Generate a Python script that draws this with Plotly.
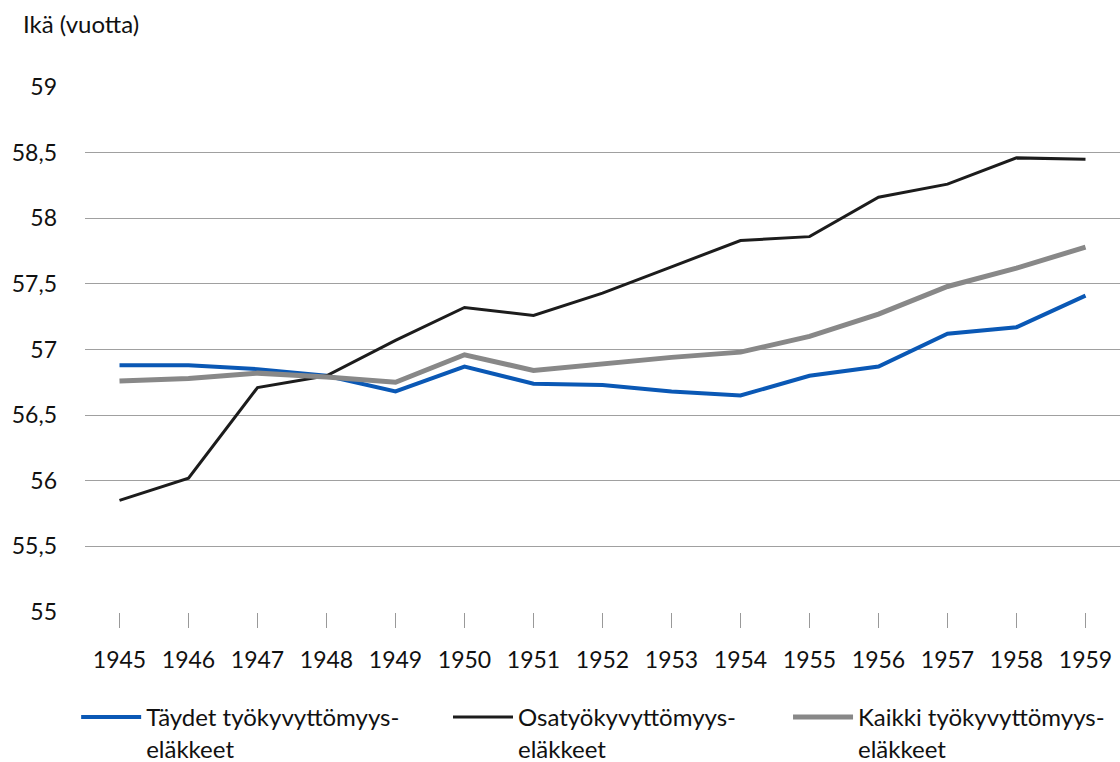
import plotly.graph_objects as go

years = [1945, 1946, 1947, 1948, 1949, 1950, 1951, 1952, 1953, 1954, 1955, 1956, 1957, 1958, 1959]
taydet = [56.88, 56.88, 56.85, 56.80, 56.68, 56.87, 56.74, 56.73, 56.68, 56.65, 56.80, 56.87, 57.12, 57.17, 57.41]
osa = [55.85, 56.02, 56.71, 56.80, 57.07, 57.32, 57.26, 57.43, 57.63, 57.83, 57.86, 58.16, 58.26, 58.46, 58.45]
kaikki = [56.76, 56.78, 56.82, 56.79, 56.75, 56.96, 56.84, 56.89, 56.94, 56.98, 57.10, 57.27, 57.48, 57.62, 57.78]

names = ["Täydet työkyvyttömyys-<br>eläkkeet", "Osatyökyvyttömyys-<br>eläkkeet", "Kaikki työkyvyttömyys-<br>eläkkeet"]
y_ticks = [55, 55.5, 56, 56.5, 57, 57.5, 58, 58.5, 59]
y_labels = ["55", "55,5", "56", "56,5", "57", "57,5", "58", "58,5", "59"]

fig = go.Figure()
fig.add_trace(go.Scatter(x=years, y=taydet, mode="lines", name=names[0], legend="legend",
                         line=dict(color="#0A58B5", width=4)))
fig.add_trace(go.Scatter(x=years, y=osa, mode="lines", name=names[1], legend="legend2",
                         line=dict(color="#1C1C1C", width=3)))
fig.add_trace(go.Scatter(x=years, y=kaikki, mode="lines", name=names[2], legend="legend3",
                         line=dict(color="#888888", width=5)))

def leg(x):
    return dict(orientation="h", xref="container", yref="container",
                x=x, xanchor="left", y=0.088, yanchor="top",
                valign="top", itemwidth=60, font=dict(size=24),
                bgcolor="rgba(0,0,0,0)")

fig.update_layout(
    width=1120, height=762,
    margin=dict(l=85, r=0, t=87, b=150),
    plot_bgcolor="white", paper_bgcolor="white",
    font=dict(family="Lato, Open Sans, sans-serif", size=23, color="#111111"),
    showlegend=True,
    legend=leg(0.068),
    legend2=leg(0.400),
    legend3=leg(0.7036),
    xaxis=dict(range=[1944.5, 1959.5], tickmode="array", tickvals=years,
               ticktext=[str(y) for y in years], showgrid=False,
               ticks="outside", ticklen=15, tickcolor="#999999",
               showline=False, zeroline=False, ticklabelstandoff=12),
    yaxis=dict(range=[55, 59], tickmode="array", tickvals=y_ticks, ticktext=y_labels,
               showgrid=True, gridcolor="#A0A0A0", gridwidth=1, zeroline=False,
               showline=False, ticks="", ticklabelstandoff=27),
    annotations=[dict(text="Ikä (vuotta)", xref="paper", yref="paper", x=-0.062, y=1.12,
                      xanchor="left", yanchor="middle", showarrow=False,
                      font=dict(size=24))],
)

fig.write_html("out.html", config={"displayModeBar": False},
               post_script="document.body.style.margin='0';")
